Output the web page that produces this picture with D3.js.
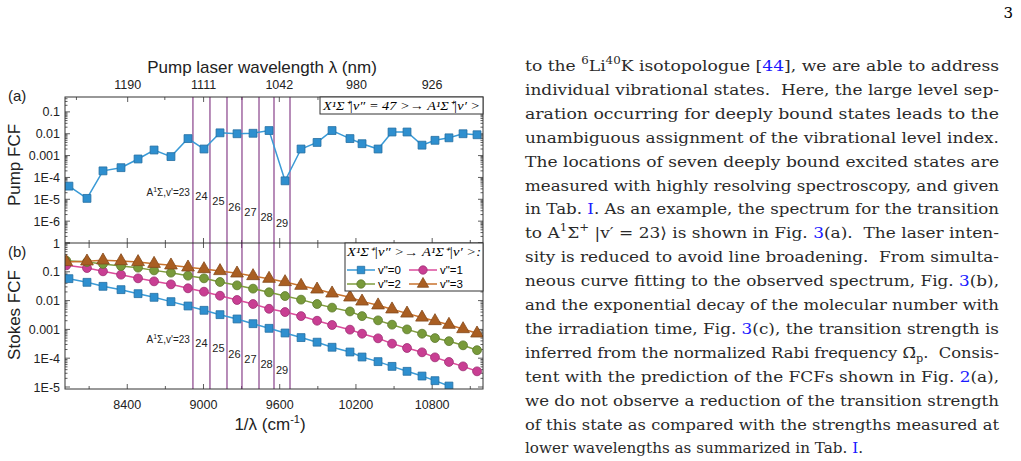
<!DOCTYPE html>
<html><head><meta charset="utf-8">
<script src="https://cdn.jsdelivr.net/npm/d3@7"></script>
<style>body{margin:0;background:#fff}svg{display:block}</style>
</head><body>
<svg id="fig" width="1021" height="461"></svg>
<script>
// wavenumber grid (cm-1)
var waveNum = [7941, 8083, 8209, 8351, 8485, 8611, 8744, 8878, 9004, 9130, 9264, 9390, 9516, 9642,
  9768, 9894, 10012, 10153, 10248, 10374, 10484, 10602, 10720, 10822, 10932, 11043, 11153];
var pumpFCF = [4e-5, 1.1e-5, 2e-4, 2.8e-4, 7e-4, 1.8e-3, 9e-4, 6e-3, 2e-3, 1.1e-2, 1e-2, 1.05e-2, 1.4e-2, 7e-5,
  2e-3, 4e-3, 1.4e-2, 6e-3, 3.5e-3, 2e-3, 1.2e-2, 1.2e-2, 3e-3, 5e-3, 6.5e-3, 1e-2, 9e-3];
var stokes0 = [0.0578, 0.0431, 0.0313, 0.024, 0.0174, 0.013, 0.0092, 0.0065, 0.0046, 0.00325, 0.0023, 0.00158, 0.00109,
  0.00075, 0.00052, 0.00036, 0.00024, 0.000164, 0.00011, 7.6e-5, 5.2e-5, 3.5e-5, 2.4e-5, 1.66e-5, 1.08e-5];
var stokes1 = [0.168, 0.135, 0.104, 0.0795, 0.0593, 0.0466, 0.0367, 0.0267, 0.0204, 0.0148, 0.0105, 0.0076, 0.0052, 0.004,
  0.0029, 0.002, 0.00142, 0.00098, 0.00071, 0.00049, 0.00032, 0.000226, 0.00016, 0.000107, 7.4e-5, 5.2e-5, 3.5e-5];
var stokes2 = [0.244, 0.219, 0.187, 0.159, 0.139, 0.112, 0.0933, 0.0734, 0.0593, 0.0443, 0.0339, 0.026, 0.0194, 0.0144,
  0.0108, 0.0076, 0.0057, 0.0042, 0.0029, 0.00206, 0.00146, 0.001, 0.00071, 0.0005, 0.00039, 0.00028, 0.00019];
var stokes3 = [0.22, 0.231, 0.25, 0.237, 0.22, 0.191, 0.168, 0.143, 0.125, 0.107, 0.0885, 0.0715, 0.0578, 0.0443,
  0.033, 0.0246, 0.0179, 0.013, 0.0094, 0.0069, 0.005, 0.0036, 0.0026, 0.00196, 0.00146, 0.00103, 0.00073];
var levelLines = [8917, 9051, 9185, 9303, 9437, 9555, 9681];
var levelLabels = ["24", "25", "26", "27", "28", "29"];
var bottomTicks = [8400, 9000, 9600, 10200, 10800];
var topTicks = [1190, 1111, 1042, 980, 926];
var pumpTicks = [0.1, 0.01, 0.001, 1e-4, 1e-5, 1e-6];
var pumpTickLabels = ["0.1", "0.01", "0.001", "1E-4", "1E-5", "1E-6"];
var stokesTicks = [1, 0.1, 0.01, 0.001, 1e-4, 1e-5];
var stokesTickLabels = ["1", "0.1", "0.01", "0.001", "1E-4", "1E-5"];

var svg = d3.select("#fig");
var L = 65, R = 483;
var x = d3.scaleLinear().domain([7910, 11200]).range([L, R]);
var yA = d3.scaleLog().domain([1e-7, 0.48]).range([243, 97]);
var yB = d3.scaleLog().domain([1e-5, 1]).range([387, 243]);
var sans = "Liberation Sans, Arial, sans-serif";
var serif = "DejaVu Serif, serif";

var defs = svg.append("defs");
defs.append("clipPath").attr("id", "cA").append("rect").attr("x", L).attr("y", 97).attr("width", R - L).attr("height", 146);
defs.append("clipPath").attr("id", "cB").append("rect").attr("x", L).attr("y", 243).attr("width", R - L).attr("height", 146);

function minorLog(g, y, lo, hi) {
  var ticks = [];
  for (var e = lo; e < hi; e++) for (var m = 1; m < 10; m++) {
    var v = m * Math.pow(10, e);
    if (v >= y.domain()[0] && v <= y.domain()[1]) ticks.push([v, m == 1]);
  }
  ticks.forEach(function (t) {
    var len = t[1] ? 5 : 2.5;
    g.append("line").attr("x1", L).attr("x2", L + len).attr("y1", y(t[0])).attr("y2", y(t[0]));
    g.append("line").attr("x1", R).attr("x2", R - len).attr("y1", y(t[0])).attr("y2", y(t[0]));
  });
}

var axes = svg.append("g").attr("stroke", "#333").attr("stroke-width", 0.8);
minorLog(axes, yA, -7, 0);
minorLog(axes, yB, -5, 1);
[243, 389].forEach(function (yy) {
  d3.range(8100, 11200, 300).forEach(function (v) {
    var big = bottomTicks.indexOf(v) >= 0;
    axes.append("line").attr("x1", x(v)).attr("x2", x(v)).attr("y1", yy).attr("y2", yy - (big ? 5 : 3));
  });
});
d3.range(8100, 11200, 300).forEach(function (v) {
  axes.append("line").attr("x1", x(v)).attr("x2", x(v)).attr("y1", 243).attr("y2", 248);
});
topTicks.forEach(function (w) {
  axes.append("line").attr("x1", x(1e7 / w)).attr("x2", x(1e7 / w)).attr("y1", 97).attr("y2", 102);
});
[1250, 1150, 1075, 1010, 952].forEach(function (w) {
  axes.append("line").attr("x1", x(1e7 / w)).attr("x2", x(1e7 / w)).attr("y1", 97).attr("y2", 100);
});

// level lines
svg.append("g").selectAll("line").data(levelLines).join("line")
  .attr("x1", d => x(d)).attr("x2", d => x(d)).attr("y1", 97).attr("y2", 389)
  .attr("stroke", "#7d2f7f").attr("stroke-width", 1.1);

function levelText(base) {
  var g = svg.append("g").attr("font-family", sans).attr("font-size", 10).attr("fill", "#222");
  var t = g.append("text").attr("x", x(levelLines[0]) - 3).attr("y", base).attr("text-anchor", "end");
  t.append("tspan").text("A");
  t.append("tspan").attr("font-size", 7).attr("dy", -4).text("1");
  t.append("tspan").attr("dy", 4).text("Σ,v'=23");
  levelLabels.forEach(function (s, i) {
    g.append("text").attr("x", (x(levelLines[i]) + x(levelLines[i + 1])) / 2).attr("y", base + 4 + i * 5.3)
      .attr("text-anchor", "middle").attr("font-size", 11).text(s);
  });
}
levelText(196);
levelText(343);

function series(y, clip, xs, vals, col, fill, shape) {
  var pts = vals.map((v, i) => [xs[i], v]);
  var g = svg.append("g").attr("clip-path", "url(#" + clip + ")");
  g.append("path").datum(pts).attr("fill", "none").attr("stroke", col).attr("stroke-width", 1.5)
    .attr("d", d3.line().x(d => x(d[0])).y(d => y(d[1])));
  var sym = d3.symbol().type(shape).size(shape === d3.symbolTriangle ? 70 : 62);
  g.selectAll("path.m").data(pts).join("path").attr("class", "m")
    .attr("transform", d => "translate(" + x(d[0]) + "," + y(d[1]) + ")")
    .attr("d", sym).attr("fill", fill).attr("stroke", d3.color(fill).darker(0.7)).attr("stroke-width", 0.8);
}
var xsB = waveNum.slice(); xsB[0] = 7920;
series(yA, "cA", [7800].concat(waveNum), [1.2e-5].concat(pumpFCF), "#3a9ad6", "#2e8fcf", d3.symbolSquare);
series(yB, "cB", waveNum, stokes0, "#3a9ad6", "#2e8fcf", d3.symbolSquare);
series(yB, "cB", xsB, stokes1, "#db4c9c", "#c93e93", d3.symbolCircle);
series(yB, "cB", xsB, stokes2, "#7f9c3e", "#789a3a", d3.symbolCircle);
series(yB, "cB", xsB, stokes3, "#c8722c", "#a95e22", d3.symbolTriangle);

// frames
svg.append("rect").attr("x", L).attr("y", 97).attr("width", R - L).attr("height", 292)
  .attr("fill", "none").attr("stroke", "#333").attr("stroke-width", 1);
svg.append("line").attr("x1", L).attr("x2", R).attr("y1", 243).attr("y2", 243).attr("stroke", "#333");

// tick labels
var lab = svg.append("g").attr("font-family", sans).attr("font-size", 12.5).attr("fill", "#222");
pumpTicks.forEach(function (v, i) {
  lab.append("text").attr("x", L - 5).attr("y", yA(v) + 4.5).attr("text-anchor", "end").text(pumpTickLabels[i]);
});
stokesTicks.forEach(function (v, i) {
  lab.append("text").attr("x", L - 5).attr("y", yB(v) + 4.5).attr("text-anchor", "end").text(stokesTickLabels[i]);
});
bottomTicks.forEach(function (v) {
  lab.append("text").attr("x", x(v)).attr("y", 409).attr("text-anchor", "middle").text(v);
});
topTicks.forEach(function (w) {
  lab.append("text").attr("x", x(1e7 / w)).attr("y", 89).attr("text-anchor", "middle").text(w);
});
var tl = svg.append("g").attr("font-family", sans).attr("font-size", 17).attr("fill", "#222");
tl.append("text").attr("x", 262).attr("y", 73).attr("text-anchor", "middle").text("Pump laser wavelength λ (nm)");
var bx = tl.append("text").attr("x", 270).attr("y", 430).attr("text-anchor", "middle");
bx.append("tspan").text("1/λ (cm");
bx.append("tspan").attr("font-size", 11).attr("dy", -7).text("-1");
bx.append("tspan").attr("dy", 7).text(")");
tl.append("text").attr("transform", "translate(20,165) rotate(-90)").attr("text-anchor", "middle").text("Pump FCF");
tl.append("text").attr("transform", "translate(20,315) rotate(-90)").attr("text-anchor", "middle").text("Stokes FCF");
tl.append("text").attr("x", 8).attr("y", 101).attr("font-size", 15).text("(a)");
tl.append("text").attr("x", 8).attr("y", 257).attr("font-size", 15).text("(b)");

// legend boxes
svg.append("rect").attr("x", 320).attr("y", 97).attr("width", 163).attr("height", 17)
  .attr("fill", "#fff").attr("stroke", "#333");
svg.append("text").attr("x", 323).attr("y", 110).attr("font-family", "Liberation Serif, serif").attr("font-size", 12.5).attr("font-style", "italic")
  .attr("textLength", 157).attr("lengthAdjust", "spacingAndGlyphs").text("X¹Σ⁺|v″ = 47 >→ A¹Σ⁺|v′ >");
svg.append("rect").attr("x", 345).attr("y", 243).attr("width", 138).attr("height", 48)
  .attr("fill", "#fff").attr("stroke", "#333");
svg.append("text").attr("x", 347).attr("y", 256).attr("font-family", "Liberation Serif, serif").attr("font-size", 11.5).attr("font-style", "italic")
  .attr("textLength", 134).attr("lengthAdjust", "spacingAndGlyphs").text("X¹Σ⁺|v″ >→ A¹Σ⁺|v′ >:");
var legItems = [["v\"=0", "#3a9ad6", "#2e8fcf", d3.symbolSquare], ["v\"=1", "#db4c9c", "#c93e93", d3.symbolCircle],
  ["v\"=2", "#7f9c3e", "#789a3a", d3.symbolCircle], ["v\"=3", "#c8722c", "#a95e22", d3.symbolTriangle]];
legItems.forEach(function (it, i) {
  var lx = 347 + (i % 2) * 62, ly = 270 + Math.floor(i / 2) * 14;
  svg.append("line").attr("x1", lx).attr("x2", lx + 28).attr("y1", ly).attr("y2", ly).attr("stroke", it[1]).attr("stroke-width", 1.5);
  svg.append("path").attr("transform", "translate(" + (lx + 14) + "," + ly + ")")
    .attr("d", d3.symbol().type(it[3]).size(55)).attr("fill", it[2]).attr("stroke", d3.color(it[2]).darker(0.7)).attr("stroke-width", 0.8);
  svg.append("text").attr("x", lx + 31).attr("y", ly + 4).attr("font-family", sans).attr("font-size", 11.5).text(it[0]);
});

// body text on the right
svg.append("text").attr("x", 1013).attr("y", 18).attr("text-anchor", "end").attr("font-family", serif).attr("font-size", 15).text("3");
var bodyLines = [
  [["to the "], ["6", "sup"], ["Li"], ["40", "sup"], ["K isotopologue ["], ["44", "link"], ["], we are able to address"]],
  [["individual vibrational states.  Here, the large level sep-"]],
  [["aration occurring for deeply bound states leads to the"]],
  [["unambiguous assignment of the vibrational level index."]],
  [["The locations of seven deeply bound excited states are"]],
  [["measured with highly resolving spectroscopy, and given"]],
  [["in Tab. "], ["I", "link"], [". As an example, the spectrum for the transition"]],
  [["to A"], ["1", "sup"], ["Σ"], ["+", "sup"], [" |v′ = 23⟩ is shown in Fig. "], ["3", "link"], ["(a).  The laser inten-"]],
  [["sity is reduced to avoid line broadening.  From simulta-"]],
  [["neous curve fitting to the observed spectrum, Fig. "], ["3", "link"], ["(b),"]],
  [["and the exponential decay of the molecular number with"]],
  [["the irradiation time, Fig. "], ["3", "link"], ["(c), the transition strength is"]],
  [["inferred from the normalized Rabi frequency Ω̄"], ["p", "sub"], [".  Consis-"]],
  [["tent with the prediction of the FCFs shown in Fig. "], ["2", "link"], ["(a),"]],
  [["we do not observe a reduction of the transition strength"]],
  [["of this state as compared with the strengths measured at"]],
  [["lower wavelengths as summarized in Tab. "], ["I", "link"], ["."]]
];
var body = svg.append("g").attr("font-family", serif).attr("font-size", 15.2).attr("fill", "#2a2a2a");
bodyLines.forEach(function (parts, i) {
  var t = body.append("text").attr("x", 525).attr("y", 71 + i * 23.9).attr("xml:space", "preserve");
  if (i < bodyLines.length - 1) t.attr("textLength", 474).attr("lengthAdjust", "spacingAndGlyphs");
  parts.forEach(function (p) {
    var s = t.append("tspan").text(p[0]);
    if (p[1] == "link") s.attr("fill", "#1a1aff");
    if (p[1] == "sup") s.attr("font-size", 10.5).attr("baseline-shift", "7");
    if (p[1] == "sub") s.attr("font-size", 10.5).attr("baseline-shift", "-4");
  });
});
</script>
</body></html>
